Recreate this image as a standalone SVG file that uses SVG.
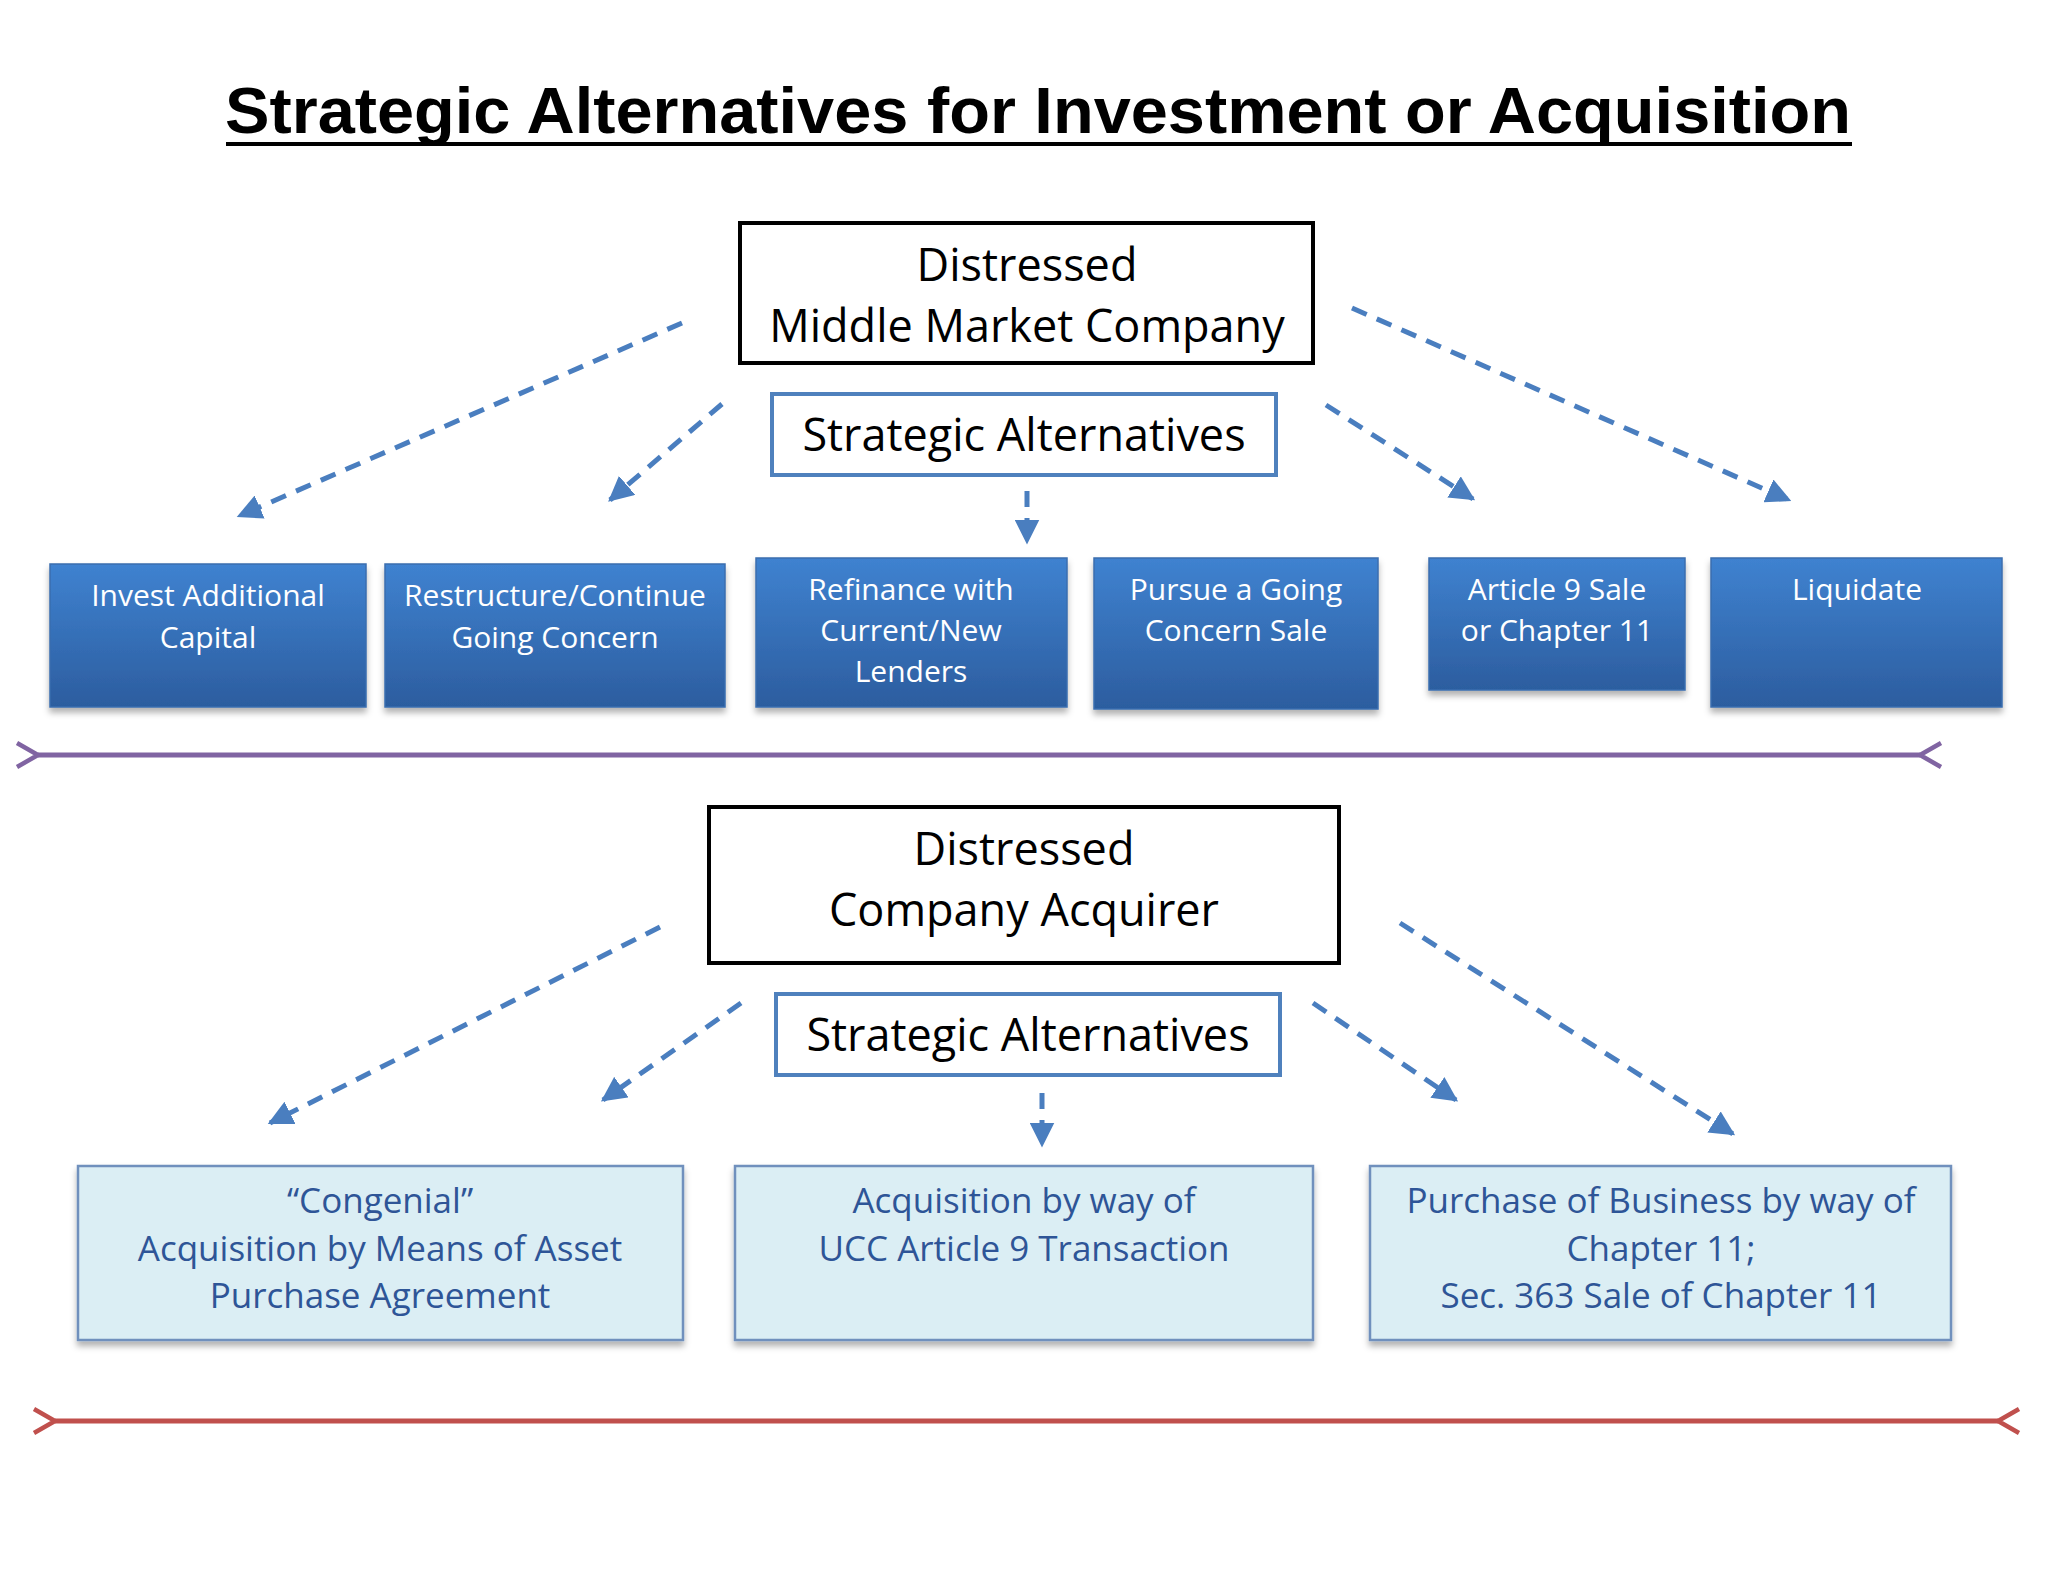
<svg xmlns="http://www.w3.org/2000/svg" width="2048" height="1582" viewBox="0 0 2048 1582">
<defs>
<linearGradient id="bg" x1="0" y1="0" x2="0" y2="1"><stop offset="0" stop-color="#3f82d0"/><stop offset="1" stop-color="#2c5d9f"/></linearGradient>
<marker id="ah" viewBox="0 0 10 10" refX="9" refY="5" markerWidth="5" markerHeight="5" orient="auto"><path d="M0,0L10,5L0,10z" fill="#4a7ebf"/></marker>
<marker id="pa" viewBox="0 0 10 10" refX="2" refY="5" markerWidth="6" markerHeight="6" orient="auto-start-reverse"><path d="M9,1L2,5L9,9" fill="none" stroke="#8064a2" stroke-width="1.5"/></marker>
<marker id="ra" viewBox="0 0 10 10" refX="2" refY="5" markerWidth="6" markerHeight="6" orient="auto-start-reverse"><path d="M9,1L2,5L9,9" fill="none" stroke="#c0504d" stroke-width="1.5"/></marker>
<filter id="sh"><feDropShadow dx="0" dy="5" stdDeviation="3" flood-opacity="0.3"/></filter>
</defs>
<style>
text{font-family:"Open Sans","Liberation Sans",sans-serif;text-anchor:middle}
.bk{fill:#fff;stroke:#000;stroke-width:4}
.sa{fill:#fff;stroke:#4f81bd;stroke-width:4}
.bt{font-size:45px;fill:#000}
.bb{fill:url(#bg);stroke:#3a6eaf;stroke-width:1.5;filter:url(#sh)}
.wt{font-size:30px;fill:#fff}
.lb{fill:#dbeef4;stroke:#6f90bd;stroke-width:2.5;filter:url(#sh)}
.lt{font-size:35px;fill:#2e5597}
.da{stroke:#4a7ebf;stroke-width:5;stroke-dasharray:16,11;fill:none;marker-end:url(#ah)}
</style>
<rect width="2048" height="1582" fill="#fff"/>
<text x="1038" y="133" font-size="64" font-weight="bold" textLength="1626" lengthAdjust="spacingAndGlyphs" style="font-family:'Liberation Sans',sans-serif">Strategic Alternatives for Investment or Acquisition</text>
<line x1="226" y1="144" x2="1852" y2="144" stroke="#000" stroke-width="4"/>
<g id="top"><rect class="bk" x="740" y="223" width="573" height="140"/><text class="bt" x="1027" y="281">Distressed</text><text class="bt" x="1027" y="342">Middle Market Company</text></g>
<g id="sa1"><rect class="sa" x="772" y="394" width="504" height="81"/><text class="bt" x="1024" y="451">Strategic Alternatives</text></g>
<g id="n1"><rect class="bb" x="50" y="564" width="316" height="143"/><text class="wt" x="208" y="606">Invest Additional</text><text class="wt" x="208" y="648">Capital</text></g>
<g id="n2"><rect class="bb" x="385" y="564" width="340" height="143"/><text class="wt" x="555" y="606">Restructure/Continue</text><text class="wt" x="555" y="648">Going Concern</text></g>
<g id="n3"><rect class="bb" x="756" y="558" width="311" height="149"/><text class="wt" x="911" y="600">Refinance with</text><text class="wt" x="911" y="641">Current/New</text><text class="wt" x="911" y="682">Lenders</text></g>
<g id="n4"><rect class="bb" x="1094" y="558" width="284" height="151"/><text class="wt" x="1236" y="600">Pursue a Going</text><text class="wt" x="1236" y="641">Concern Sale</text></g>
<g id="n5"><rect class="bb" x="1429" y="558" width="256" height="132"/><text class="wt" x="1557" y="600">Article 9 Sale</text><text class="wt" x="1557" y="641">or Chapter 11</text></g>
<g id="n6"><rect class="bb" x="1711" y="558" width="291" height="149"/><text class="wt" x="1857" y="600">Liquidate</text></g>
<g id="bot"><rect class="bk" x="709" y="807" width="630" height="156"/><text class="bt" x="1024" y="865">Distressed</text><text class="bt" x="1024" y="926">Company Acquirer</text></g>
<g id="sa2"><rect class="sa" x="776" y="994" width="504" height="81"/><text class="bt" x="1028" y="1051">Strategic Alternatives</text></g>
<g id="m1"><rect class="lb" x="78" y="1166" width="605" height="174"/><text class="lt" x="380" y="1213">“Congenial”</text><text class="lt" x="380" y="1261">Acquisition by Means of Asset</text><text class="lt" x="380" y="1308">Purchase Agreement</text></g>
<g id="m2"><rect class="lb" x="735" y="1166" width="578" height="174"/><text class="lt" x="1024" y="1213">Acquisition by way of</text><text class="lt" x="1024" y="1261">UCC Article 9 Transaction</text></g>
<g id="m3"><rect class="lb" x="1370" y="1166" width="581" height="174"/><text class="lt" x="1661" y="1213">Purchase of Business by way of</text><text class="lt" x="1661" y="1261">Chapter 11;</text><text class="lt" x="1661" y="1308">Sec. 363 Sale of Chapter 11</text></g>
<g id="connectors">
<path class="da" d="M682,323L239,516"/>
<path class="da" d="M722,404L610,500"/>
<path class="da" d="M1027,491L1027,542"/>
<path class="da" d="M1326,405L1473,499"/>
<path class="da" d="M1352,308L1789,500"/>
<path class="da" d="M660,927L270,1123"/>
<path class="da" d="M741,1003L603,1100"/>
<path class="da" d="M1042,1093L1042,1145"/>
<path class="da" d="M1313,1003L1456,1100"/>
<path class="da" d="M1400,923L1733,1134"/>
<line x1="38" y1="755" x2="1920" y2="755" stroke="#8064a2" stroke-width="5" marker-start="url(#pa)" marker-end="url(#pa)"/>
<line x1="55" y1="1421" x2="1998" y2="1421" stroke="#c0504d" stroke-width="5" marker-start="url(#ra)" marker-end="url(#ra)"/>
</g>
</svg>
